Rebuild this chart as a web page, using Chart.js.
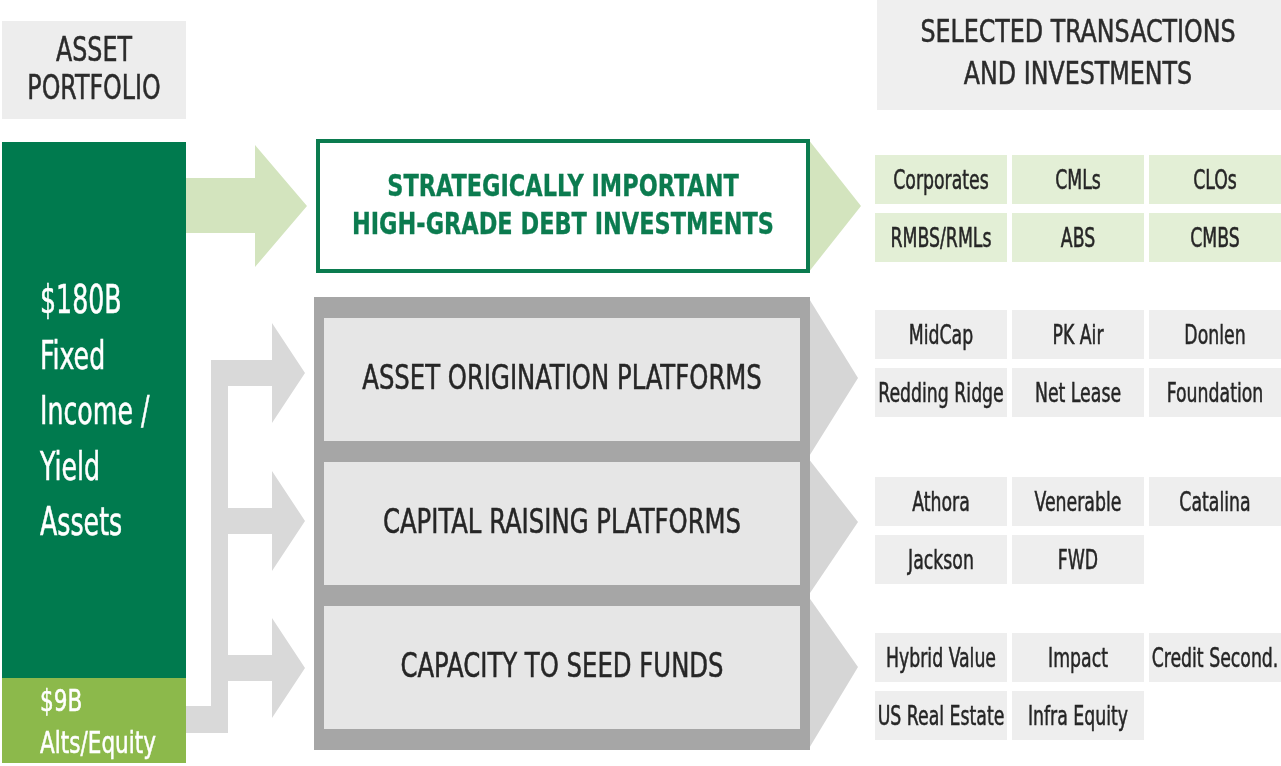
<!DOCTYPE html>
<html>
<head>
<meta charset="utf-8">
<script src="https://cdn.jsdelivr.net/npm/chart.js@4"></script>
<style>
  html, body { margin: 0; padding: 0; background: #ffffff; overflow: hidden; }
  #wrap { width: 1281px; height: 766px; }
</style>
</head>
<body>
<div id="wrap"><canvas id="diagram" width="1281" height="766"></canvas></div>
<script>
// Content of the diagram
const portfolioHeader = ['ASSET', 'PORTFOLIO'];
const fixedIncomeLabel = ['$180B', 'Fixed', 'Income /', 'Yield', 'Assets'];
const altsLabel = ['$9B', 'Alts/Equity'];
const debtTitle = ['STRATEGICALLY IMPORTANT', 'HIGH-GRADE DEBT INVESTMENTS'];
const platformNames = ['ASSET ORIGINATION PLATFORMS', 'CAPITAL RAISING PLATFORMS', 'CAPACITY TO SEED FUNDS'];
const dealsHeader = ['SELECTED TRANSACTIONS', 'AND INVESTMENTS'];
const debtDeals = ['Corporates', 'CMLs', 'CLOs', 'RMBS/RMLs', 'ABS', 'CMBS'];
const originationDeals = ['MidCap', 'PK Air', 'Donlen', 'Redding Ridge', 'Net Lease', 'Foundation'];
const capitalDeals = ['Athora', 'Venerable', 'Catalina', 'Jackson', 'FWD'];
const seedDeals = ['Hybrid Value', 'Impact', 'Credit Second.', 'US Real Estate', 'Infra Equity'];

const FONT = '"Liberation Sans Narrow", "DejaVu Sans Condensed", "Noto Sans", sans-serif';

const diagramPlugin = {
    id: 'diagram',
    afterDraw(chart) {
        const ctx = chart.ctx;
        const X = v => chart.scales.x.getPixelForValue(v);
        const Y = v => chart.scales.y.getPixelForValue(v);

        function rect(x0, y0, x1, y1, fill) {
            ctx.fillStyle = fill;
            ctx.fillRect(X(x0), Y(y0), X(x1) - X(x0), Y(y1) - Y(y0));
        }
        function poly(pts, fill) {
            ctx.beginPath();
            pts.forEach((p, i) => i ? ctx.lineTo(X(p[0]), Y(p[1])) : ctx.moveTo(X(p[0]), Y(p[1])));
            ctx.closePath();
            ctx.fillStyle = fill;
            ctx.fill();
        }
        // condensed text: horizontal squeeze to get the narrow look of the original face
        function text(s, x, y, size, o) {
            o = o || {};
            ctx.save();
            ctx.font = (o.bold ? 'bold ' : '') + size + 'px ' + FONT;
            ctx.fillStyle = o.color || '#262626';
            ctx.strokeStyle = o.color || '#262626';
            ctx.lineWidth = o.bold ? 0.3 : 0.5;
            ctx.textBaseline = 'middle';
            ctx.textAlign = o.align || 'center';
            ctx.translate(X(x), Y(y) + 2);
            ctx.scale(o.sx || 0.8, 1);
            ctx.fillText(s, 0, 0);
            ctx.strokeText(s, 0, 0);
            ctx.restore();
        }

        // left header
        rect(2, 21, 186, 119, '#ededed');
        portfolioHeader.forEach((s, i) => text(s, 94, 50 + i * 38, 33, { color: '#2b2b2b', sx: 0.8 }));

        // portfolio column
        rect(2, 142, 186, 678, '#007a4e');
        rect(2, 678, 186, 763, '#8cb94b');
        fixedIncomeLabel.forEach((s, i) => text(s, 40, 301 + i * 55.5, 39, { color: '#ffffff', align: 'left', sx: 0.72 }));
        altsLabel.forEach((s, i) => text(s, 40, 701 + i * 42, 30, { color: '#ffffff', align: 'left', sx: 0.8 }));

        // green arrow to debt box
        poly([[186, 178], [255, 178], [255, 145], [307, 206], [255, 267], [255, 233], [186, 233]], '#d3e4be');

        // gray connector arrows
        const conn = '#d9d9d9';
        rect(186, 706, 228, 733, conn);
        rect(211, 360, 228, 733, conn);
        [373, 521, 668].forEach(cy => {
            poly([[211, cy - 13], [272, cy - 13], [272, cy - 50], [305, cy], [272, cy + 50], [272, cy + 13], [211, cy + 13]], conn);
        });

        // chevrons to the right
        poly([[808, 139], [861, 206], [808, 273]], '#d3e4be');
        poly([[808, 297], [858, 378], [808, 458]], '#d6d6d6');
        poly([[808, 458], [858, 522], [808, 596]], '#d6d6d6');
        poly([[808, 596], [858, 667], [808, 750]], '#d6d6d6');

        // debt box
        rect(316, 139, 810, 273, '#0b7b4f');
        rect(320, 143, 806, 269, '#ffffff');
        debtTitle.forEach((s, i) => text(s, 563, 186 + i * 38, 31, { bold: true, color: '#0b7b4f', sx: 0.805 }));

        // platform frame
        rect(314, 297, 810, 750, '#a6a6a6');
        platformNames.forEach((s, i) => {
            const top = 318 + i * 144;
            rect(324, top, 800, top + 123, '#e6e6e6');
            text(s, 562, top + 60, 33, { color: '#262626', sx: 0.82 });
        });

        // right header
        rect(877, 0, 1281, 110, '#efefef');
        dealsHeader.forEach((s, i) => text(s, 1078, 32 + i * 42, 32, { color: '#2b2b2b', sx: 0.825 }));

        // deal cells
        const cols = [[875, 1007], [1012, 1144], [1149, 1281]];
        const groups = [
            { items: debtDeals, top: 155, fill: '#e3efd6' },
            { items: originationDeals, top: 310, fill: '#eeeeee' },
            { items: capitalDeals, top: 477, fill: '#eeeeee' },
            { items: seedDeals, top: 633, fill: '#eeeeee' }
        ];
        groups.forEach(g => {
            g.items.forEach((s, i) => {
                const c = cols[i % 3];
                const y0 = g.top + Math.floor(i / 3) * 58;
                rect(c[0], y0, c[1], y0 + 49, g.fill);
                text(s, (c[0] + c[1]) / 2, y0 + 25, 26, { color: '#262626', sx: 0.74 });
            });
        });
    }
};

new Chart(document.getElementById('diagram'), {
    type: 'scatter',
    data: { datasets: [] },
    options: {
        responsive: false,
        animation: false,
        events: [],
        layout: { padding: 0 },
        scales: {
            x: { type: 'linear', min: 0, max: 1281, display: false },
            y: { type: 'linear', min: 0, max: 766, reverse: true, display: false }
        },
        plugins: { legend: { display: false }, tooltip: { enabled: false } }
    },
    plugins: [diagramPlugin]
});
</script>
</body>
</html>
